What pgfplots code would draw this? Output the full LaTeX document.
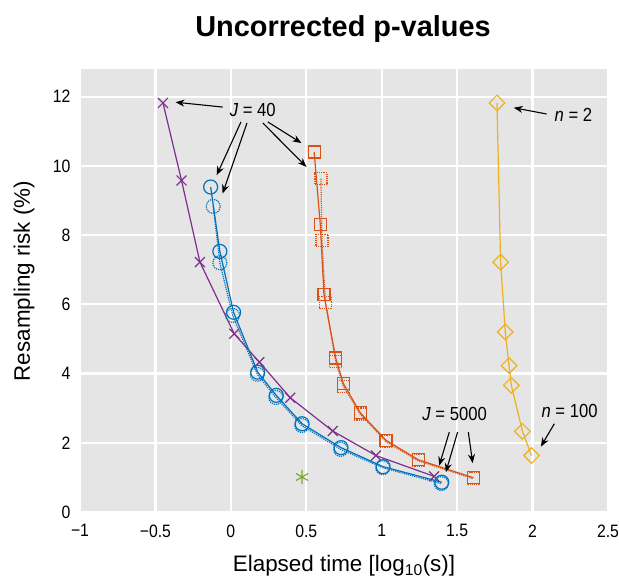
\documentclass[border=0pt]{standalone}
\usepackage{fontspec}
\setmainfont{Liberation Sans}
\newfontfamily\narrow{Liberation Sans}[FakeStretch=0.88]
\usepackage{pgfplots}
\pgfplotsset{compat=1.18}
\usetikzlibrary{arrows.meta}
\definecolor{mpurple}{rgb}{0.494,0.184,0.556}
\definecolor{mblue}{rgb}{0,0.447,0.741}
\definecolor{morange}{rgb}{0.851,0.325,0.098}
\definecolor{myellow}{rgb}{0.929,0.694,0.125}
\definecolor{mgreen}{rgb}{0.466,0.674,0.188}
\definecolor{bggray}{RGB}{229,229,229}
\pgfplotstableread{
x y
-0.450 11.82
-0.327 9.58
-0.205 7.22
0.022 5.15
0.189 4.33
0.394 3.30
0.675 2.34
0.962 1.63
1.347 1.03
}\purple
\pgfplotstableread{
x y
-0.134 9.39
-0.073 7.53
0.018 5.77
0.178 4.04
0.301 3.37
0.472 2.55
0.730 1.86
1.009 1.31
1.398 0.86
}\bluesolid
\pgfplotstableread{
x y
-0.117 8.83
-0.073 7.20
0.012 5.68
0.175 3.98
0.298 3.31
0.470 2.50
0.728 1.81
1.007 1.28
1.395 0.82
}\bluedot
\pgfplotstableread{
x y
0.552 10.40
0.593 8.30
0.617 6.28
0.695 4.45
0.746 3.71
0.857 2.87
1.029 2.07
1.242 1.51
1.608 0.99
}\orangesolid
\pgfplotstableread{
x y
0.597 9.63
0.604 7.85
0.627 6.06
0.695 4.34
0.746 3.63
0.857 2.83
1.029 2.03
1.242 1.48
1.608 0.96
}\orangedot
\pgfplotstableread{
x y
1.764 11.82
1.788 7.22
1.819 5.20
1.844 4.23
1.859 3.66
1.933 2.33
1.993 1.63
}\yellow
\pgfplotstableread{
x y
0.472 1.01
}\green
\begin{document}
\begin{tikzpicture}[x=1bp,y=1bp]
\useasboundingbox (0,0) rectangle (619,578);
\begin{axis}[
  at={(80bp,66bp)}, anchor=south west,
  scale only axis, width=528bp, height=443bp,
  xmin=-1, xmax=2.5, ymin=0, ymax=12.8,
  clip=false,
  axis background/.style={fill=bggray},
  axis line style={draw=none},
  grid=major, major grid style={white, line width=2.2bp},
  major tick length=0pt,
  xtick={-1,-0.5,0,0.5,1,1.5,2,2.5},
  xticklabels={−1,−0.5,0,0.5,1,1.5,2,2.5},
  ytick={0,2,4,6,8,10,12},
  yticklabels={0,2,4,6,8,10,12},
  tick label style={font=\narrow\fontsize{18}{18}\selectfont},
  xticklabel style={yshift=-9bp},
  yticklabel style={xshift=-6bp},
  every axis plot/.append style={line width=1.2bp},
]
\addplot[mpurple, mark=x, mark size=7bp] table {\purple};
\addplot[mblue, densely dotted, mark=o, mark size=7bp, mark options={densely dotted}] table {\bluedot};
\addplot[mblue, mark=o, mark size=7bp, mark options={solid}] table {\bluesolid};
\addplot[morange, densely dotted, mark=square, mark size=6bp, mark options={densely dotted}] table {\orangedot};
\addplot[morange, mark=square, mark size=6bp, mark options={solid}] table {\orangesolid};
\addplot[myellow, mark=square, mark size=5.5bp, mark options={solid, rotate=45}] table {\yellow};
\addplot[mgreen, only marks, mark=asterisk, mark size=7bp] table {\green};

\begin{scope}[every node/.style={font=\narrow\fontsize{19}{19}\selectfont}]
\node at (axis cs:0.145,11.62) {\textit{J} = 40};
\node at (axis cs:2.271,11.46) {\textit{n} = 2};
\node at (axis cs:2.245,2.91) {\textit{n} = 100};
\node at (axis cs:1.483,2.82) {\textit{J} = 5000};
\end{scope}
\begin{scope}[black, line width=1.1bp, -{Stealth[length=9bp,width=7bp]}]
\draw (axis cs:-0.055,11.70) -- (axis cs:-0.367,11.84);
\draw (axis cs:0.067,11.27) -- (axis cs:-0.094,9.73);
\draw (axis cs:0.107,11.24) -- (axis cs:-0.055,9.20);
\draw (axis cs:0.245,11.27) -- (axis cs:0.468,10.66);
\draw (axis cs:0.212,11.24) -- (axis cs:0.501,9.97);
\draw (axis cs:2.093,11.50) -- (axis cs:1.875,11.68);
\draw (axis cs:2.144,2.55) -- (axis cs:2.055,1.89);
\draw (axis cs:1.448,2.31) -- (axis cs:1.381,1.34);
\draw (axis cs:1.503,2.31) -- (axis cs:1.425,1.15);
\draw (axis cs:1.574,2.31) -- (axis cs:1.603,1.41);
\end{scope}
\end{axis}
\node[anchor=base, font=\fontsize{22.5}{22.5}\selectfont] at (344,6.3) {Elapsed time [log\textsubscript{10}(s)]};
\node[rotate=90, font=\fontsize{22.5}{22.5}\selectfont] at (24,297) {Resampling risk (\%)};
\node[anchor=base, font=\bfseries\fontsize{29}{29}\selectfont] at (343,541.7) {Uncorrected p-values};
\end{tikzpicture}
\end{document}
